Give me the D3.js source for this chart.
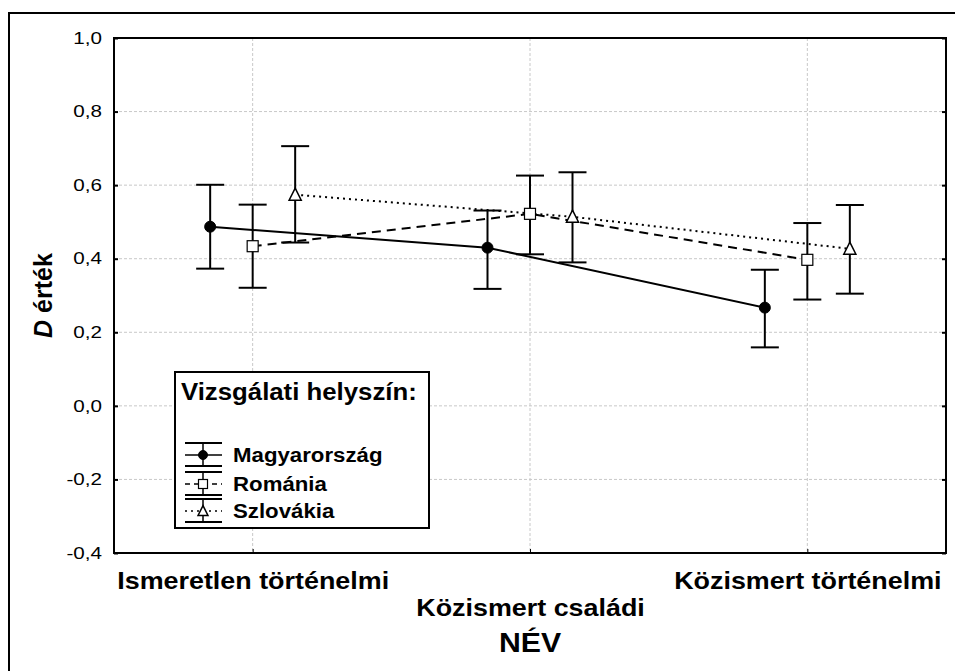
<!DOCTYPE html>
<html>
<head>
<meta charset="utf-8">
<script src="https://cdn.jsdelivr.net/npm/d3@7"></script>
<style>
  body { margin: 0; background: #fff; }
  svg { font-family: "Liberation Sans", Arial, sans-serif; }
</style>
</head>
<body>
<div id="chart"></div>
<script>
// categories on the x axis
var categories = ["Ismeretlen történelmi", "Közismert családi", "Közismert történelmi"];
var seriesNames = ["Magyarország", "Románia", "Szlovákia"];

// means and error bar ends
var magyarMean = [0.487, 0.430, 0.267];
var magyarLow  = [0.373, 0.318, 0.159];
var magyarHigh = [0.601, 0.531, 0.370];

var romaniaMean = [0.434, 0.522, 0.397];
var romaniaLow  = [0.321, 0.412, 0.289];
var romaniaHigh = [0.547, 0.626, 0.497];

var szlovakiaMean = [0.574, 0.514, 0.427];
var szlovakiaLow  = [0.444, 0.390, 0.305];
var szlovakiaHigh = [0.706, 0.635, 0.546];

var yTicks = [-0.4, -0.2, 0.0, 0.2, 0.4, 0.6, 0.8, 1.0];

// the original text is a bit wider than Arial, stretch it sideways
function stretch(sel, k) {
  sel.each(function() {
    var len = this.getComputedTextLength();
    d3.select(this)
      .attr("textLength", len * k)
      .attr("lengthAdjust", "spacingAndGlyphs");
  });
}

function init() {
  var w = 955, h = 671;
  var left = 114, right = 946, top = 38, bottom = 553;

  var series = [
    { name: seriesNames[0], mean: magyarMean, lo: magyarLow, hi: magyarHigh, dash: null, marker: "circle" },
    { name: seriesNames[1], mean: romaniaMean, lo: romaniaLow, hi: romaniaHigh, dash: "9,6", marker: "square" },
    { name: seriesNames[2], mean: szlovakiaMean, lo: szlovakiaLow, hi: szlovakiaHigh, dash: "2,4", marker: "triangle" }
  ];

  var svg = d3.select("#chart").append("svg")
    .attr("width", w)
    .attr("height", h);

  // outer frame
  svg.append("rect")
    .attr("x", 9).attr("y", 13)
    .attr("width", 1000).attr("height", 700)
    .attr("fill", "none").attr("stroke", "#000").attr("stroke-width", 2);

  var xScale = d3.scalePoint()
    .domain(categories)
    .range([left, right])
    .padding(0.5);

  var offset = d3.scalePoint()
    .domain(seriesNames)
    .range([-42.5, 42.5]);

  var yScale = d3.scaleLinear()
    .domain([-0.4, 1.0])
    .range([bottom, top]);

  var fmt = function(d) { return d3.format(".1f")(d).replace(".", ",").replace("−", "-"); };

  // grid
  svg.append("g").selectAll("line")
    .data(yTicks)
    .enter().append("line")
    .attr("x1", left).attr("x2", right)
    .attr("y1", function(d) { return yScale(d); })
    .attr("y2", function(d) { return yScale(d); })
    .attr("stroke", "#c8c8c8").attr("stroke-width", 1).attr("stroke-dasharray", "3,2");

  svg.append("g").selectAll("line")
    .data(categories)
    .enter().append("line")
    .attr("x1", function(d) { return xScale(d); })
    .attr("x2", function(d) { return xScale(d); })
    .attr("y1", top).attr("y2", bottom)
    .attr("stroke", "#c8c8c8").attr("stroke-width", 1).attr("stroke-dasharray", "3,2");

  // axes
  var yAxis = d3.axisLeft(yScale)
    .tickValues(yTicks)
    .tickSize(-4)
    .tickPadding(12)
    .tickFormat(fmt);

  var yAxisR = d3.axisRight(yScale)
    .tickValues(yTicks)
    .tickSize(-4)
    .tickFormat("");

  var xAxis = d3.axisBottom(xScale)
    .tickSize(-4)
    .tickPadding(0);

  var gy = svg.append("g")
    .attr("transform", "translate(" + left + ",0)")
    .call(yAxis);
  gy.select(".domain").remove();
  gy.selectAll("line").attr("stroke-width", 2);
  gy.selectAll("text")
    .attr("font-size", "16.5px")
    .attr("font-family", "Liberation Sans, Arial, sans-serif")
    .attr("fill", "#000")
    .call(stretch, 1.25);

  var gyr = svg.append("g")
    .attr("transform", "translate(" + right + ",0)")
    .call(yAxisR);
  gyr.select(".domain").remove();
  gyr.selectAll("line").attr("stroke-width", 2);

  var gx = svg.append("g")
    .attr("transform", "translate(0," + bottom + ")")
    .call(xAxis);
  gx.select(".domain").remove();
  gx.selectAll("line").attr("stroke-width", 1);
  gx.selectAll("text")
    .attr("font-size", "24px")
    .attr("font-weight", "bold")
    .attr("font-family", "Liberation Sans, Arial, sans-serif")
    .attr("fill", "#000")
    .attr("dy", null)
    .attr("y", function(d, i) { return i % 2 ? 63 : 36; })
    .call(stretch, 1.12);

  // plot frame
  svg.append("rect")
    .attr("x", left).attr("y", top)
    .attr("width", right - left).attr("height", bottom - top)
    .attr("fill", "none").attr("stroke", "#000").attr("stroke-width", 2);

  // axis titles
  var yt = svg.append("text")
    .attr("transform", "translate(52," + ((top + bottom) / 2) + ") rotate(-90)")
    .attr("text-anchor", "middle")
    .attr("font-size", "25px")
    .attr("font-weight", "bold");
  yt.append("tspan").attr("font-style", "italic").text("D");
  yt.append("tspan").text(" érték");

  svg.append("text")
    .attr("x", xScale(categories[1]))
    .attr("y", 652)
    .attr("text-anchor", "middle")
    .attr("font-size", "27px")
    .attr("font-weight", "bold")
    .text("NÉV")
    .call(stretch, 1.12);

  // lines between means
  var line = d3.line()
    .x(function(d) { return d.x; })
    .y(function(d) { return d.y; });

  series.forEach(function(s) {
    var pts = categories.map(function(c, i) {
      return { x: xScale(c) + offset(s.name), y: yScale(s.mean[i]), lo: yScale(s.lo[i]), hi: yScale(s.hi[i]) };
    });
    s.pts = pts;
    svg.append("path")
      .datum(pts)
      .attr("d", line)
      .attr("fill", "none")
      .attr("stroke", "#000")
      .attr("stroke-width", 2)
      .attr("stroke-dasharray", s.dash);
  });

  // error bars and markers
  function drawMarker(g, type, x, y, size) {
    if (type == "circle") {
      g.append("circle").attr("cx", x).attr("cy", y).attr("r", size * 0.5)
        .attr("fill", "#000").attr("stroke", "#000");
    } else if (type == "square") {
      g.append("rect").attr("x", x - size / 2).attr("y", y - size / 2)
        .attr("width", size).attr("height", size)
        .attr("fill", "#fff").attr("stroke", "#000").attr("stroke-width", 1.2);
    } else {
      var s = size * 1.1;
      g.append("path")
        .attr("d", "M" + x + "," + (y - s * 0.55) + "L" + (x + s / 2) + "," + (y + s * 0.45) + "L" + (x - s / 2) + "," + (y + s * 0.45) + "Z")
        .attr("fill", "#fff").attr("stroke", "#000").attr("stroke-width", 1.5);
    }
  }

  var cap = 14;
  series.forEach(function(s) {
    var g = svg.append("g");
    s.pts.forEach(function(p) {
      g.append("line").attr("x1", p.x).attr("x2", p.x).attr("y1", p.hi).attr("y2", p.lo)
        .attr("stroke", "#000").attr("stroke-width", 2);
      g.append("line").attr("x1", p.x - cap).attr("x2", p.x + cap).attr("y1", p.hi).attr("y2", p.hi)
        .attr("stroke", "#000").attr("stroke-width", 2);
      g.append("line").attr("x1", p.x - cap).attr("x2", p.x + cap).attr("y1", p.lo).attr("y2", p.lo)
        .attr("stroke", "#000").attr("stroke-width", 2);
      drawMarker(g, s.marker, p.x, p.y, 11);
    });
  });

  // legend
  var lg = svg.append("g");
  lg.append("rect")
    .attr("x", 175).attr("y", 372)
    .attr("width", 254).attr("height", 156)
    .attr("fill", "#fff").attr("stroke", "#000").attr("stroke-width", 2);
  lg.append("text")
    .attr("x", 181).attr("y", 400)
    .attr("font-size", "23px").attr("font-weight", "bold")
    .text("Vizsgálati helyszín:")
    .call(stretch, 1.12);

  var itemY = [462, 491, 518];
  series.forEach(function(s, i) {
    var cy = itemY[i] - 7;
    var sx = 203;
    lg.append("line").attr("x1", 185).attr("x2", 222).attr("y1", cy - 12).attr("y2", cy - 12)
      .attr("stroke", "#000").attr("stroke-width", 2);
    lg.append("line").attr("x1", 185).attr("x2", 222).attr("y1", cy + 11).attr("y2", cy + 11)
      .attr("stroke", "#000").attr("stroke-width", 2);
    lg.append("line").attr("x1", sx).attr("x2", sx).attr("y1", cy - 12).attr("y2", cy + 11)
      .attr("stroke", "#000").attr("stroke-width", 1.5);
    lg.append("line").attr("x1", 185).attr("x2", 222).attr("y1", cy).attr("y2", cy)
      .attr("stroke", "#000").attr("stroke-width", 1.5)
      .attr("stroke-dasharray", s.dash == "9,6" ? "5,4" : s.dash);
    drawMarker(lg, s.marker, sx, cy, 9);
    lg.append("text")
      .attr("x", 233).attr("y", itemY[i])
      .attr("font-size", "19.5px").attr("font-weight", "bold")
      .text(s.name)
      .call(stretch, 1.14);
  });
}

window.onload = init;
</script>
</body>
</html>
